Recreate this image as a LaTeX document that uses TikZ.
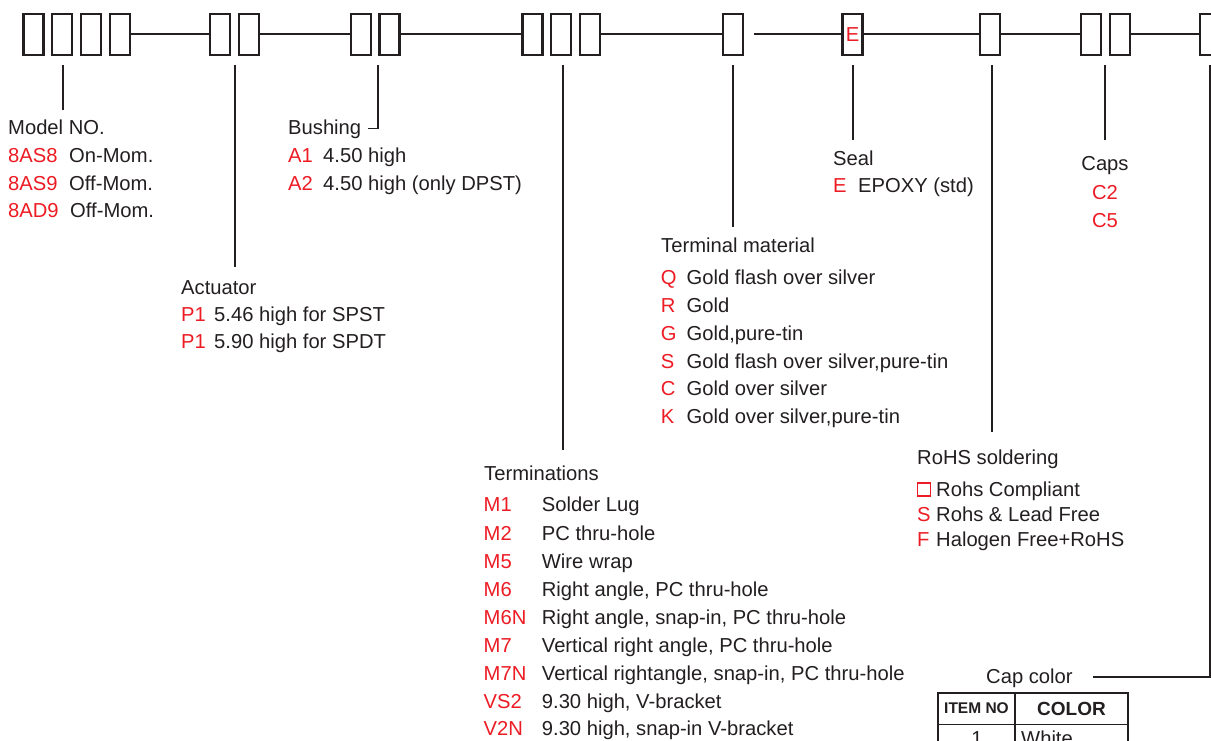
\documentclass[tikz,border=0pt]{standalone}
\usepackage{fontspec}
\setmainfont{Liberation Sans}
\definecolor{ink}{RGB}{35,31,32}
\definecolor{codered}{RGB}{237,28,36}
\begin{document}
\begin{tikzpicture}[x=1pt,y=-1pt,
  cell/.style={draw=ink, line width=2.2pt, minimum width=20pt, minimum height=41pt, inner sep=0pt},
  wire/.style={draw=ink, line width=1.7pt},
  lead/.style={draw=ink, line width=1.5pt},
  lbl/.style={anchor=base west, inner sep=0pt, text=ink, font=\fontsize{20.2}{23}\selectfont},
  code/.style={lbl, text=codered},
  clbl/.style={lbl, anchor=base},
  ccode/.style={code, anchor=base},
  thead/.style={anchor=base, inner sep=0pt, text=ink, font=\bfseries\fontsize{16}{18}\selectfont}
]
\useasboundingbox (0,0) rectangle (1211,741);
\clip (0,0) rectangle (1211,741);
\fill[white] (0,0) rectangle (1211,741);

% top row of cells
\foreach \n/\x in {b1/33.5,b2/61.7,b3/90.8,b4/120.2,b5/220.2,b6/248.8,b7/361.2,b8/389.5,
  b9/532.5,b10/561.2,b11/590.3,b12/733,b14/990.3,b15/1091,b16/1119.8,b17/1209.7}
  \node[cell] (\n) at (\x,34.3) {};
\node[cell, text=codered, font=\fontsize{20.2}{23}\selectfont] (b13) at (852.5,34.3) {E};
\coordinate (g12) at (754.3,34.3);

\draw[wire] (b4.east) -- (b5.west);
\draw[wire] (b6.east) -- (b7.west);
\draw[wire] (b8.east) -- (b9.west);
\draw[wire] (b11.east) -- (b12.west);
\draw[wire] (g12) -- (b13.west);
\draw[wire] (b13.east) -- (b14.west);
\draw[wire] (b14.east) -- (b15.west);
\draw[wire] (b16.east) -- (b17.west);

% lead coordinates
\coordinate (t1) at (63,65);   \coordinate (e1) at (63,110);
\coordinate (t2) at (235,65);  \coordinate (e2) at (235,267);
\coordinate (t3) at (378,65);  \coordinate (k3) at (378,128.3); \coordinate (e3) at (368.3,128.3);
\coordinate (t4) at (563,65);  \coordinate (e4) at (563,450);
\coordinate (t5) at (733,65);  \coordinate (e5) at (733,227);
\coordinate (t6) at (853,65);  \coordinate (e6) at (853,140);
\coordinate (t7) at (992,65);  \coordinate (e7) at (992,432);
\coordinate (t8) at (1105,65); \coordinate (e8) at (1105,140);
\coordinate (t9) at (1210,65); \coordinate (k9) at (1210,677); \coordinate (e9) at (1092.7,677);

\draw[lead] (t1) -- (e1);
\draw[lead] (t2) -- (e2);
\draw[lead] (t3) -- (k3) -- (e3);
\draw[lead] (t4) -- (e4);
\draw[lead] (t5) -- (e5);
\draw[lead] (t6) -- (e6);
\draw[lead] (t7) -- (e7);
\draw[lead] (t8) -- (e8);
\draw[lead] (t9) -- (k9) -- (e9);

% Model NO.
\node[lbl] (mh) at (8,135) {Model NO.};
\node[code] (m1c) at (8,162.5) {8AS8}; \node[lbl] (m1d) at (69,162.5) {On-Mom.};
\node[code] (m2c) at (8,190) {8AS9};   \node[lbl] (m2d) at (69,190) {Off-Mom.};
\node[code] (m3c) at (8,218) {8AD9};   \node[lbl] (m3d) at (70,218) {Off-Mom.};

% Bushing
\node[lbl] (bh) at (288,135) {Bushing};
\node[code] (bu1c) at (288,162.5) {A1}; \node[lbl] (bu1d) at (323,162.5) {4.50 high};
\node[code] (bu2c) at (288,190) {A2};   \node[lbl] (bu2d) at (323,190) {4.50 high (only DPST)};

% Actuator
\node[lbl] (ah) at (181,294) {Actuator};
\node[code] (a1c) at (181,321.5) {P1}; \node[lbl] (a1d) at (214,321.5) {5.46 high for SPST};
\node[code] (a2c) at (181,348.5) {P1}; \node[lbl] (a2d) at (214,348.5) {5.90 high for SPDT};

% Terminations
\node[lbl] (th) at (484,480) {Terminations};
\foreach \c/\d/\y [count=\i] in {M1/Solder Lug/511.7, M2/PC thru-hole/540, M5/Wire wrap/568,
  M6/{Right angle, PC thru-hole}/596, M6N/{Right angle, snap-in, PC thru-hole}/624,
  M7/{Vertical right angle, PC thru-hole}/652, M7N/{Vertical rightangle, snap-in, PC thru-hole}/680,
  VS2/{9.30 high, V-bracket}/708, V2N/{9.30 high, snap-in V-bracket}/735.5}
{
  \node[code] (tc\i) at (483.5,\y) {\c};
  \node[lbl] (td\i) at (541.7,\y) {\d};
}

% Terminal material
\node[lbl] (mh2) at (661,252.3) {Terminal material};
\foreach \c/\d/\y [count=\i] in {Q/Gold flash over silver/284, R/Gold/312, G/{Gold,pure-tin}/340.5,
  S/{Gold flash over silver,pure-tin}/368, C/Gold over silver/395.5, K/{Gold over silver,pure-tin}/423}
{
  \node[code] (mc\i) at (660.7,\y) {\c};
  \node[lbl] (md\i) at (686.5,\y) {\d};
}

% Seal
\node[lbl] (sh) at (833,165.5) {Seal};
\node[code] (s1c) at (833,192.3) {E}; \node[lbl] (s1d) at (858,192.3) {EPOXY (std)};

% RoHS soldering
\node[lbl] (rh) at (917,464) {RoHS soldering};
\node[draw=codered, line width=1.1pt, minimum size=13pt, inner sep=0pt] (r1c) at (924,489.5) {};
\node[lbl] (r1d) at (936,496) {Rohs Compliant};
\node[code] (r2c) at (917,521) {S}; \node[lbl] (r2d) at (936,521) {Rohs \& Lead Free};
\node[code] (r3c) at (917,546) {F}; \node[lbl] (r3d) at (936,546) {Halogen Free+RoHS};

% Caps
\node[clbl] (ch) at (1105,171) {Caps};
\node[ccode] (c1) at (1105,199.3) {C2};
\node[ccode] (c2) at (1105,227.3) {C5};

% Cap color
\node[lbl] (cc) at (986,683.3) {Cap color};

% table
\draw[ink, line width=1.7pt] (938,760) -- (938,693) -- (1128,693) -- (1128,760);
\draw[ink, line width=1.7pt] (938,724.5) -- (1128,724.5);
\draw[ink, line width=1.7pt] (1015,693) -- (1015,760);
\node[thead, font=\bfseries\fontsize{15.5}{18}\selectfont] (ti) at (976.5,713.3) {ITEM NO};
\node[thead, font=\bfseries\fontsize{19}{22}\selectfont] (tc) at (1071.5,715) {COLOR};
\node[clbl] (r1n) at (977,745) {1};
\node[lbl] (r1w) at (1021,745) {White};
\end{tikzpicture}
\end{document}
